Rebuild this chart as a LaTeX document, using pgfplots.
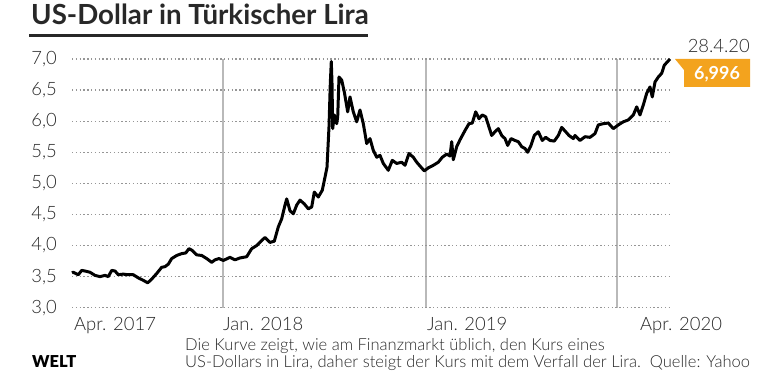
\documentclass[border=0pt]{standalone}
\usepackage{pgfplots}
\pgfplotsset{compat=1.18}
\usepackage{fontspec}
\IfFontExistsTF{Lato Light}{\setmainfont{Lato Light}[BoldFont=Lato Bold]}{\setmainfont{Lato}}
\newfontfamily\titlefont{Lato Bold}
\IfFontExistsTF{Lato Black}{\newfontfamily\logofont{Lato Black}}{\newfontfamily\logofont{Lato Bold}}
\definecolor{weltorange}{RGB}{243,163,30}
\definecolor{gridgray}{RGB}{150,150,150}
\definecolor{vgray}{RGB}{185,185,185}
\definecolor{txt}{RGB}{40,40,40}
\begin{document}
\begin{tikzpicture}
\path[use as bounding box] (0,0) rectangle (780bp,373bp);
\begin{axis}[
  at={(72bp,65.3bp)}, anchor=south west,
  scale only axis, width=598bp, height=248.7bp,
  xmin=72, xmax=670, ymin=3, ymax=7,
  clip=false,
  axis line style={draw=none},
  tick style={draw=none},
  xtick={223,426,617}, xticklabels={},
  ytick={3,3.5,4,4.5,5,5.5,6,6.5,7},
  xmajorgrids, ymajorgrids,
  x grid style={vgray, line width=1.6bp, solid},
  y grid style={gridgray, line width=1.3bp, dash pattern=on 1.3bp off 2.5bp},
  yticklabel style={anchor=east, inner sep=0pt, xshift=-15bp, font=\fontsize{18.5}{18.5}\selectfont, text=txt},
  /pgf/number format/.cd, use comma, fixed, fixed zerofill, precision=1, assume math mode=true,
]
\addplot[black, line width=3bp, line join=round] coordinates {
(72,3.56)(73.3,3.57)(78.3,3.53)(81.7,3.60)(85,3.59)(90,3.57)(95,3.52)(100,3.50)
(105,3.52)(108.3,3.50)(111.7,3.60)(115,3.59)(118.3,3.53)(123.3,3.54)(128.3,3.53)
(133.3,3.53)(138.3,3.48)(143.3,3.44)(147.7,3.40)(151.7,3.46)(156.7,3.55)(161.7,3.65)
(165,3.66)(168.3,3.70)(171.7,3.79)(176.7,3.84)(181.7,3.87)(185.7,3.88)(189,3.95)
(192.3,3.92)(196.7,3.85)(201.7,3.84)(206.7,3.79)(211.7,3.73)(215,3.77)(219,3.79)
(223.3,3.76)(230,3.81)(235,3.77)(240,3.80)(246.7,3.82)(251.7,3.95)(256.7,4.00)
(261.7,4.08)(265,4.13)(270,4.05)(274.3,4.07)(278.3,4.30)(281.7,4.43)(285,4.65)
(286.7,4.75)(290,4.56)(293.3,4.51)(296.7,4.65)(300,4.73)(304.3,4.67)(308.3,4.59)
(311.7,4.62)(314.3,4.86)(318.3,4.78)(322.3,4.89)(325,5.10)(327,5.26)(329,5.91)
(330.3,6.61)(331.3,6.96)(332,6.61)(332.7,5.88)(334.3,6.10)(336.7,5.96)(337.7,6.07)
(339,6.71)(341.7,6.66)(344.3,6.47)(347.7,6.15)(350,6.39)(353.3,6.15)(356.7,5.99)
(360,6.18)(363.3,5.96)(366.7,5.64)(370,5.72)(373.3,5.53)(376.7,5.42)(380,5.45)
(383.3,5.32)(388.3,5.21)(392.3,5.37)(396.7,5.32)(401.7,5.34)(405,5.29)(409,5.48)
(413.3,5.42)(416.7,5.34)(421,5.26)(424.3,5.20)(428.3,5.25)(433.3,5.29)(438.3,5.34)
(442.3,5.42)(446.7,5.47)(450,5.44)(451.7,5.67)(453.3,5.38)(456.7,5.59)(460,5.70)
(465,5.85)(469,5.96)(472.3,5.97)(475.7,6.15)(479,6.04)(482.3,6.10)(485.7,6.07)
(488.3,5.94)(491.7,5.77)(495,5.83)(498.3,5.88)(501.7,5.77)(505,5.72)(507.7,5.61)
(511,5.72)(515,5.69)(518.3,5.67)(521.7,5.59)(525,5.56)(527.7,5.50)(531,5.61)
(534.3,5.77)(538.3,5.83)(542.3,5.69)(545.7,5.74)(550,5.69)(554.3,5.68)(558.3,5.77)
(561.7,5.90)(565.7,5.83)(569,5.77)(573.3,5.72)(575,5.77)(580,5.69)(585,5.75)
(590,5.74)(595,5.80)(598.3,5.94)(603.3,5.96)(608.3,5.97)(613.3,5.88)(618.3,5.94)
(623.3,5.99)(628.3,6.02)(633.3,6.10)(636.7,6.23)(640,6.10)(643.3,6.26)(646.7,6.45)
(650,6.55)(652.3,6.39)(655,6.63)(658.3,6.71)(661.7,6.77)(664.3,6.90)(667.7,6.96)
(670,7.00)
};
\end{axis}
% title and rule
\node[anchor=base west, inner sep=0pt, text=txt] at (31bp,348bp) {\titlefont\fontsize{27.8}{28}\selectfont US-Dollar in Türkischer Lira};
\fill[txt] (29bp,336bp) rectangle (368bp,339bp);
% x labels
\begin{scope}[every node/.style={anchor=base west, inner sep=0pt, text=txt, font=\fontsize{18.5}{18.5}\selectfont}]
\node at (74bp,42bp) {Apr. 2017};
\node at (223bp,42bp) {Jan. 2018};
\node at (427bp,42bp) {Jan. 2019};
\node at (640bp,42bp) {Apr. 2020};
\node[anchor=base east] at (750bp,320bp) {28.4.20};
\end{scope}
% value tag
\fill[weltorange] (675bp,314bp) -- (750bp,314bp) -- (750bp,286bp) -- (684bp,286bp) -- (684bp,303bp) -- cycle;
\node[text=white, inner sep=0pt, anchor=base] at (717bp,293bp) {\titlefont\fontsize{18}{18}\selectfont 6,996};
% caption
\node[anchor=base west, inner sep=0pt, text=txt] at (185bp,22.5bp) {\fontsize{16.6}{17}\selectfont Die Kurve zeigt, wie am Finanzmarkt üblich, den Kurs eines};
\node[anchor=base west, inner sep=0pt, text=txt] at (185bp,5.5bp) {\fontsize{16.6}{17}\selectfont US-Dollars in Lira, daher steigt der Kurs mit dem Verfall der Lira.\ \ Quelle: Yahoo};
% logo
\node[anchor=base west, inner sep=0pt, text=black] at (32bp,5.5bp) {\logofont\fontsize{16.5}{17}\selectfont WELT};
\end{tikzpicture}
\end{document}
